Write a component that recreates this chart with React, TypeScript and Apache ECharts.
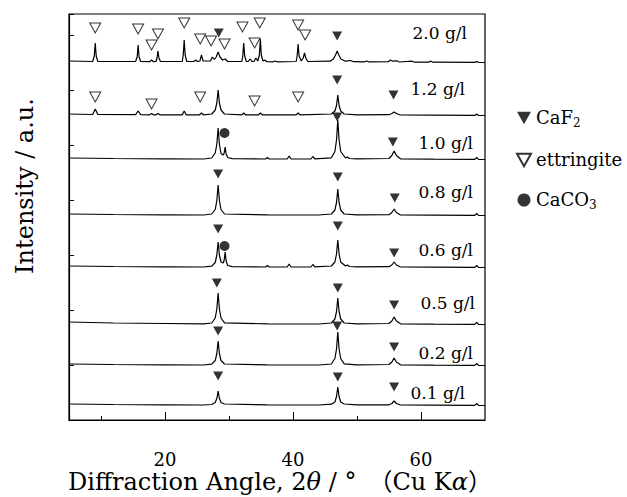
import React, { useEffect, useRef } from "react";
import * as echarts from "echarts";

// ---------- data ----------
const concentrations = ["0.1 g/l", "0.2 g/l", "0.5 g/l", "0.6 g/l", "0.8 g/l", "1.0 g/l", "1.2 g/l", "2.0 g/l"];
// vertical offset of each pattern (a.u.)
const offsets = [14, 54, 95, 152, 204, 260, 304, 357];

// [2θ (°), relative intensity (a.u.)]
const trace01: number[][] = [
  [5, 2], [12, 1.5], [20, 1.2], [26, 1], [27.3, 1.5], [27.85, 3.5], [28.1, 7.5], [28.3, 15], [28.5, 7.5], [28.75, 3.5], [29.3, 2],
  [36, 1.2], [44, 1], [46, 1.8], [46.55, 4], [46.8, 9.5], [47.0, 19], [47.2, 9.5], [47.45, 4], [48, 2], [50, 1.2],
  [55.0, 1.2], [55.45, 2.5], [55.8, 5], [56.15, 2.5], [56.8, 1], [62, 0.8], [68.4, 0.6], [68.7, 2.5], [69.0, 0.6], [70, 0.5],
];
const trace02: number[][] = [
  [5, 2], [12, 1.5], [20, 1.2], [26, 1], [27.3, 1.8], [27.85, 5.5], [28.1, 12.5], [28.3, 25], [28.5, 12.5], [28.75, 5.5], [29.3, 2],
  [36, 1.2], [44, 1], [46, 2], [46.55, 7.5], [46.8, 17], [47.0, 34], [47.2, 17], [47.45, 7.5], [48, 2.2], [50, 1.2],
  [55.0, 1.5], [55.45, 4], [55.8, 8], [56.15, 4], [56.8, 1.2], [62, 0.8], [68.4, 0.6], [68.7, 2.5], [69.0, 0.6], [70, 0.5],
];
const trace05: number[][] = [
  [5, 3], [12, 2], [20, 1.5], [26, 1.2], [27.3, 2], [27.85, 7], [28.1, 16], [28.3, 32], [28.5, 16], [28.75, 7], [29.3, 2.2],
  [36, 1.2], [44, 1], [46, 2], [46.55, 6], [46.8, 13.5], [47.0, 27], [47.2, 13.5], [47.45, 6], [48, 2], [50, 1.2],
  [55.0, 1.5], [55.45, 4], [55.8, 8], [56.15, 4], [56.8, 1.2], [62, 0.8], [68.4, 0.6], [68.7, 2.5], [69.0, 0.6], [70, 0.5],
];
const trace06: number[][] = [
  [5, 2], [12, 1.5], [20, 1.2], [26, 1], [27.3, 1.8], [27.85, 5.5], [28.1, 13], [28.3, 26], [28.5, 13], [28.75, 6], [29.1, 5],
  [29.25, 8], [29.4, 16], [29.55, 7], [29.8, 2.5], [30.5, 1.3], [35.7, 1], [36.0, 2.5], [36.3, 1], [39.1, 1], [39.4, 4], [39.7, 1],
  [42.8, 1], [43.1, 3.5], [43.4, 1.2], [46, 2], [46.55, 6], [46.8, 14], [47.0, 28], [47.2, 14], [47.45, 6], [48.2, 2], [48.5, 3],
  [48.8, 1.5], [50, 1.2], [55.0, 1.3], [55.45, 3], [55.8, 6], [56.15, 3], [56.8, 1], [62, 0.8], [68.4, 0.6], [68.7, 2.5], [69.0, 0.6], [70, 0.5],
];
const trace08: number[][] = [
  [5, 2], [12, 1.5], [20, 1.2], [26, 1], [27.3, 2], [27.85, 6.5], [28.1, 15.5], [28.3, 31], [28.5, 15.5], [28.75, 6.5], [29.3, 2],
  [36, 1.2], [44, 1], [46, 2], [46.55, 6], [46.8, 13.5], [47.0, 27], [47.2, 13.5], [47.45, 6], [48, 2], [50, 1.2],
  [55.0, 1.3], [55.45, 3.5], [55.8, 7], [56.15, 3.5], [56.8, 1], [62, 0.8], [68.4, 0.6], [68.7, 2.5], [69.0, 0.6], [70, 0.5],
];
const trace10: number[][] = [
  [5, 2], [12, 1.5], [20, 1.2], [26, 1], [27.3, 2], [27.85, 7], [28.1, 16], [28.3, 32], [28.5, 16], [28.75, 6.5], [29.1, 5],
  [29.25, 7], [29.4, 13], [29.55, 6], [29.8, 2.5], [30.5, 1.3], [35.7, 1], [36.0, 2.5], [36.3, 1], [39.1, 1], [39.4, 4], [39.7, 1],
  [42.8, 1], [43.1, 3.5], [43.4, 1.2], [46, 2.2], [46.55, 8.5], [46.8, 20], [47.0, 40], [47.2, 20], [47.45, 8.5], [48.2, 2], [48.5, 3],
  [48.8, 1.5], [50, 1.2], [55.0, 1.5], [55.45, 4.5], [55.8, 9], [56.15, 4.5], [56.8, 1.2], [62, 0.8], [68.4, 0.6], [68.7, 2.5], [69.0, 0.6], [70, 0.5],
];
const trace12: number[][] = [
  [5, 2], [8.7, 1.5], [9.1, 7], [9.5, 1.5], [15.4, 1.3], [15.8, 5], [16.2, 1.3], [17.6, 1.2], [17.9, 2.5], [18.2, 1.2], [18.6, 1.2],
  [18.9, 2.5], [19.2, 1.2], [22.7, 1.2], [23.0, 5], [23.3, 1.2], [25.4, 1.2], [25.7, 3], [26.0, 1.2], [27.3, 2], [27.85, 6],
  [28.1, 13], [28.3, 26], [28.5, 13], [28.75, 6], [29.3, 2], [32.0, 1.2], [32.3, 3], [32.6, 1.2], [34.6, 1.2], [34.9, 3], [35.2, 1.2],
  [40.5, 1.2], [40.8, 3], [41.1, 1.2], [46, 2], [46.55, 5], [46.8, 10.5], [47.0, 21], [47.2, 10.5], [47.45, 5], [48, 2], [50, 1.2],
  [55.0, 1.3], [55.45, 2.5], [55.8, 4], [56.15, 2.5], [56.8, 1], [62, 0.8], [68.4, 0.6], [68.7, 2], [69.0, 0.6], [70, 0.5],
];
const trace20: number[][] = [
  [5, 2], [8.7, 1.5], [8.95, 7], [9.1, 20], [9.25, 7], [9.5, 1.5], [15.4, 1.5], [15.65, 6], [15.8, 18], [15.95, 6], [16.2, 1.5],
  [17.6, 1.3], [17.9, 3], [18.2, 1.3], [18.6, 1.5], [18.75, 5], [18.9, 12], [19.05, 5], [19.3, 1.5], [22.7, 1.5], [22.85, 8],
  [23.0, 23], [23.15, 8], [23.4, 1.5], [24.5, 1.5], [24.8, 3], [25.1, 1.5], [25.45, 2], [25.7, 8], [25.95, 2], [27.1, 2], [27.4, 6],
  [27.7, 3.5], [28.0, 6], [28.3, 11], [28.6, 6], [29.0, 3], [29.4, 4], [29.8, 1.5], [32.0, 1.5], [32.15, 7], [32.3, 20], [32.45, 7],
  [32.7, 1.5], [33.0, 1.5], [33.3, 4], [33.6, 1.5], [33.9, 1.5], [34.2, 5], [34.5, 2], [34.75, 8], [34.9, 24], [35.05, 8], [35.3, 2],
  [35.6, 3], [35.9, 1.3], [36.9, 1.2], [37.2, 2], [37.5, 1.2], [40.5, 1.5], [40.65, 7], [40.8, 19], [40.95, 7], [41.3, 2], [41.6, 5],
  [41.8, 10], [42.0, 5], [42.3, 1.5], [45.8, 1.8], [46.3, 4], [46.65, 8], [46.9, 12], [47.15, 8], [47.5, 4], [48.2, 1.8], [49.0, 2.5],
  [49.5, 1.3], [51.2, 1.2], [51.5, 2], [51.8, 1.2], [54.9, 1.3], [55.2, 3], [55.6, 1.8], [56.2, 2.2], [56.6, 1], [58.6, 1.8], [59.0, 0.8],
  [61.2, 0.8], [61.5, 2], [61.8, 0.8], [68.4, 0.6], [68.7, 1.5], [69.0, 0.6], [70, 0.5],
];
const traces = [trace01, trace02, trace05, trace06, trace08, trace10, trace12, trace20];

// phase markers, [2θ (°), a.u. incl. offset]
const caf2Marks: number[][] = [
  [28.4, 387], [46.9, 384],
  [46.9, 340], [55.7, 325],
  [46.9, 303], [55.6, 278],
  [28.3, 246], [47.0, 243], [55.9, 222],
  [28.3, 191], [47.0, 194], [55.8, 167],
  [28.1, 137], [47.0, 132], [55.8, 115],
  [28.3, 89], [46.9, 94], [55.8, 73],
  [28.3, 44], [47.0, 43], [55.8, 33],
];
const ettringiteMarks: number[][] = [
  [9.1, 392], [15.8, 391], [17.9, 375], [18.9, 386], [23.0, 397], [25.5, 381], [27.2, 379], [29.3, 376],
  [32.1, 393], [34.0, 377], [34.8, 397], [40.8, 395], [41.9, 385],
  [9.1, 323], [17.9, 316], [25.5, 323], [34.0, 319], [40.8, 323],
];
const caco3Marks: number[][] = [[29.3, 287], [29.3, 174]];

const xTickLabels = [20, 40, 60];
const xMinorTicks = [10, 30, 50];

// ---------- layout ----------
const FONT = "'DejaVu Serif', 'Liberation Serif', 'Noto Sans CJK JP', serif";
const labelRight = [465, 473, 475, 473, 473, 473, 465, 467];
const labelY = [393, 353, 303, 250, 192, 143, 89, 33];
const downTri = "path://M0,0L10,0L5,9Z";

export default function App() {
  const ref = useRef<HTMLDivElement>(null);
  useEffect(() => {
    if (!ref.current) return;
    const chart = echarts.init(ref.current, null, { renderer: "svg" });
    const lineSeries = traces.map((t, i) => ({
      type: "line",
      name: concentrations[i],
      data: t.map(([x, y]) => [x, y + offsets[i]]),
      showSymbol: false,
      symbol: "none",
      lineStyle: { color: "#000", width: 1.2 },
      silent: true,
      z: 2,
    }));
    const option: any = {
      animation: false,
      backgroundColor: "#fff",
      grid: { left: 69, right: 142, top: 14, bottom: 77, show: true, borderColor: "#000", borderWidth: 1.2, backgroundColor: "transparent" },
      xAxis: [
        {
          type: "value", min: 5, max: 70, position: "bottom",
          axisLine: { show: true, lineStyle: { color: "#000", width: 1.2 } },
          axisTick: { show: true, inside: true, length: 8, customValues: xTickLabels, lineStyle: { color: "#000" } },
          axisLabel: { show: true, customValues: xTickLabels, margin: 30, color: "#000", fontSize: 18, fontFamily: FONT },
          splitLine: { show: false },
        },
        {
          type: "value", min: 5, max: 70, position: "bottom",
          axisLine: { show: false },
          axisTick: { show: true, inside: true, length: 4, customValues: xMinorTicks, lineStyle: { color: "#000" } },
          axisLabel: { show: false },
          splitLine: { show: false },
        },
      ],
      yAxis: {
        type: "value", min: 0, max: 406, interval: 55,
        axisLine: { show: true, lineStyle: { color: "#000", width: 1.2 } },
        axisTick: { show: true, inside: true, length: 5, lineStyle: { color: "#000" } },
        axisLabel: { show: false },
        splitLine: { show: false },
      },
      legend: {
        orient: "vertical", left: 511, top: 104, itemGap: 22, itemWidth: 14, itemHeight: 13,
        data: [
          { name: "CaF2", icon: downTri },
          { name: "ettringite", icon: downTri },
          { name: "CaCO3", icon: "circle" },
        ],
        formatter: (n: string) => n === "CaF2" ? "{t|CaF}{s|2}" : n === "CaCO3" ? "{t|CaCO}{s|3}" : "{t|ettringite}",
        textStyle: {
          color: "#000", fontFamily: FONT, fontSize: 18,
          rich: {
            t: { fontFamily: FONT, fontSize: 18, color: "#000" },
            s: { fontFamily: FONT, fontSize: 12, color: "#000", verticalAlign: "bottom", padding: [10, 0, 0, 0] },
          },
        },
      },
      series: [
        ...lineSeries,
        {
          type: "scatter", name: "CaF2", data: caf2Marks, symbol: downTri, symbolSize: [10, 9],
          itemStyle: { color: "#000" }, z: 5,
        },
        {
          type: "scatter", name: "ettringite", data: ettringiteMarks, symbol: downTri, symbolSize: [11, 10],
          itemStyle: { color: "#fff", borderColor: "#000", borderWidth: 1 }, z: 5,
        },
        {
          type: "scatter", name: "CaCO3", data: caco3Marks, symbol: "circle", symbolSize: 10,
          itemStyle: { color: "#000" }, z: 5,
        },
      ],
      graphic: [
        ...concentrations.map((c, i) => ({
          type: "text", x: labelRight[i], y: labelY[i], z: 10,
          style: { text: c, fontFamily: FONT, fontSize: 17, fill: "#000", align: "right", verticalAlign: "middle" },
        })),
        {
          type: "text", x: 25, y: 186, rotation: Math.PI / 2,
          style: { text: "Intensity / a.u.", fontFamily: FONT, fontSize: 24, fill: "#000", align: "center", verticalAlign: "middle" },
        },
        {
          type: "text", x: 68, y: 482,
          style: {
            text: "Diffraction Angle, 2{i|θ} / °　（Cu K{i|α}）",
            fontFamily: FONT, fontSize: 24, fill: "#000", align: "left", verticalAlign: "middle",
            rich: { i: { fontFamily: FONT, fontSize: 24, fontStyle: "italic", fill: "#000" } },
          },
        },
      ],
    };
    chart.setOption(option);
    return () => chart.dispose();
  }, []);
  return <div ref={ref} style={{ position: "fixed", left: 0, top: 0, width: 627, height: 497 }} />;
}
